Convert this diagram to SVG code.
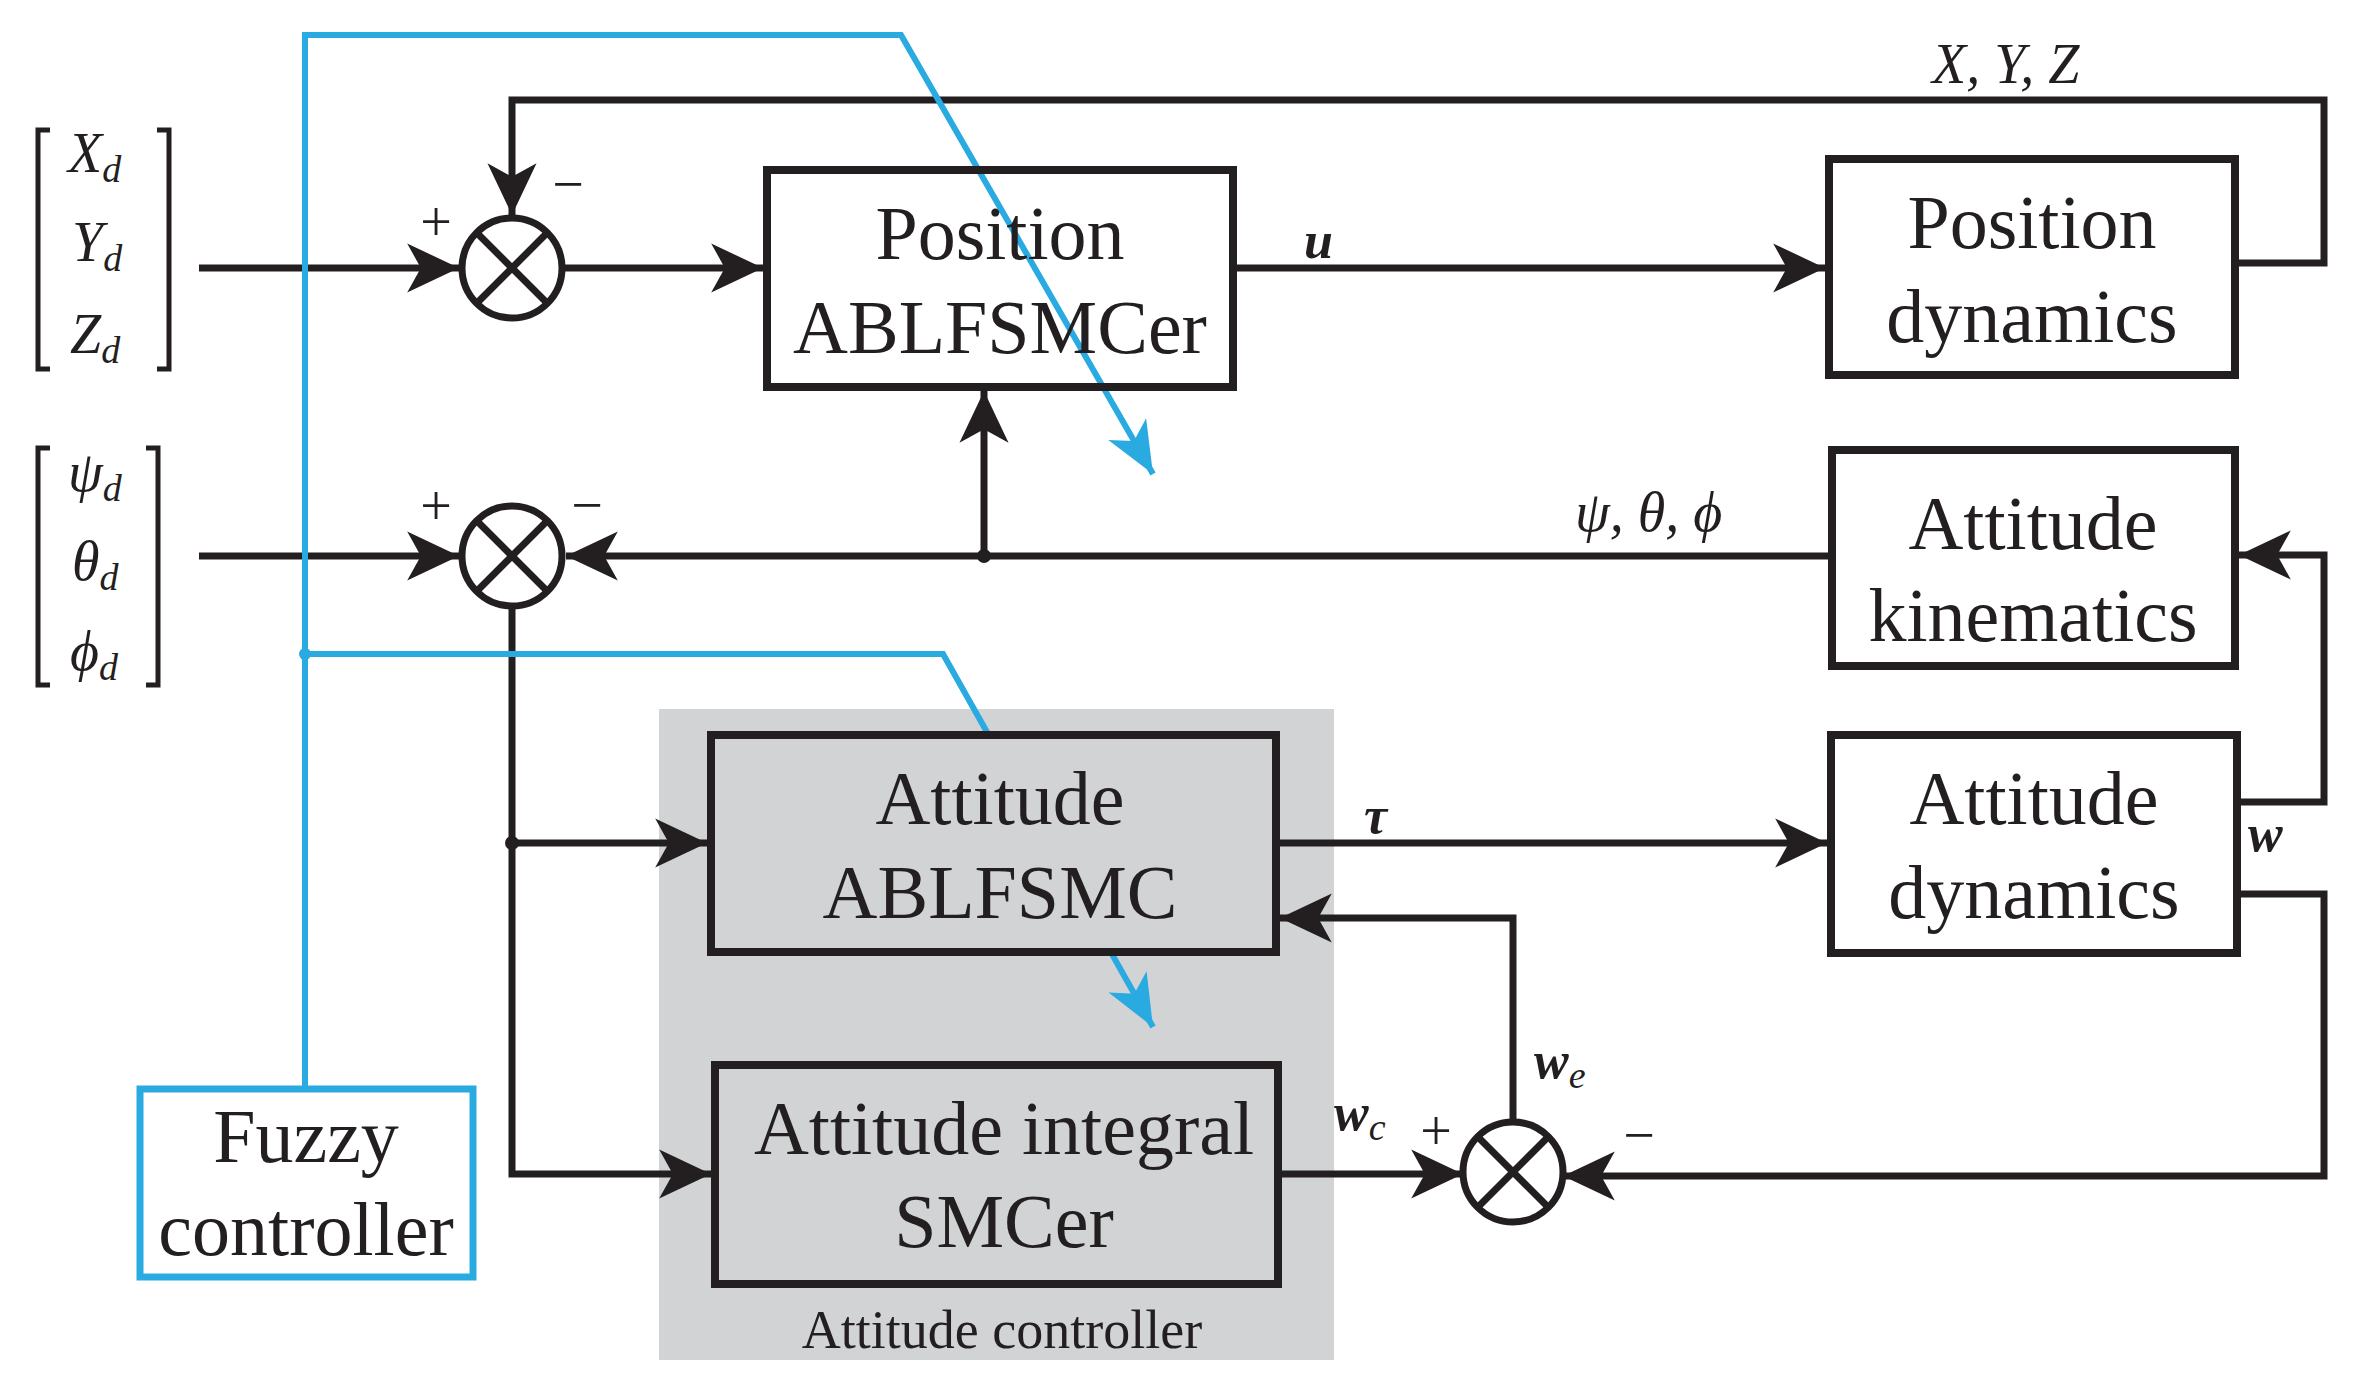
<svg xmlns="http://www.w3.org/2000/svg" width="2360" height="1390" viewBox="0 0 2360 1390">
<style>
.box{fill:none;stroke:#231f20;stroke-width:8}
.gbox{fill:#d1d3d4;stroke:#231f20;stroke-width:8}
.ln{fill:none;stroke:#231f20;stroke-width:7}
.bl{fill:none;stroke:#29abe2;stroke-width:6}
.t{font-family:"Liberation Serif",serif;font-size:76px;fill:#231f20;text-anchor:middle}
.m{font-family:"Liberation Serif",serif;font-style:italic;font-size:56px;fill:#231f20}
.b{font-family:"Liberation Serif",serif;font-style:italic;font-weight:bold;font-size:52px;fill:#231f20}
.s{font-size:38px}
.pm{font-family:"Liberation Serif",serif;font-size:56px;fill:#231f20;text-anchor:middle}
</style>
<defs>
<marker id="a" markerUnits="userSpaceOnUse" markerWidth="60" markerHeight="60" viewBox="-40 -20 44 40" refX="0" refY="0" orient="auto"><path d="M0,0 L-38,-18 L-28,0 L-38,18 Z" fill="#231f20"/></marker>
<marker id="ab" markerUnits="userSpaceOnUse" markerWidth="60" markerHeight="60" viewBox="-40 -20 44 40" refX="0" refY="0" orient="auto"><path d="M0,0 L-38,-16 L-28,0 L-38,16 Z" fill="#29abe2"/></marker>
</defs>
<rect x="659" y="709" width="675" height="651" fill="#d1d3d4"/>
<text x="1002" y="1348" font-family="Liberation Serif,serif" font-size="54" fill="#231f20" text-anchor="middle">Attitude controller</text>

<g id="connectors">
<path class="ln" d="M199,268 H459" marker-end="url(#a)"/>
<path class="ln" d="M2237,263 H2324 V100 H512 V215" marker-end="url(#a)"/>
<path class="ln" d="M562,268 H763" marker-end="url(#a)"/>
<path class="ln" d="M1233,268 H1825" marker-end="url(#a)"/>
<path class="ln" d="M199,556 H459" marker-end="url(#a)"/>
<path class="ln" d="M1832,556 H566" marker-end="url(#a)"/>
<path class="ln" d="M984,556 V391" marker-end="url(#a)"/>
<circle cx="984" cy="556" r="7" fill="#231f20"/>
<path class="ln" d="M512,606 V1174 H711" marker-end="url(#a)"/>
<path class="ln" d="M512,843 H707" marker-end="url(#a)"/>
<circle cx="512" cy="843" r="7" fill="#231f20"/>
<path class="ln" d="M1276,843 H1827" marker-end="url(#a)"/>
<path class="ln" d="M2237,802 H2324 V555 H2239" marker-end="url(#a)"/>
<path class="ln" d="M2237,894 H2324 V1176 H1563" marker-end="url(#a)"/>
<path class="ln" d="M1278,1174 H1463" marker-end="url(#a)"/>
<path class="ln" d="M1513,1122 V918 H1280" marker-end="url(#a)"/>
<path class="bl" d="M305,1089 V35 H901 L1153,474" marker-end="url(#ab)"/>
<path class="bl" d="M305,654 H943 L1153,1027" marker-end="url(#ab)"/>
<circle cx="305" cy="654" r="6" fill="#29abe2"/>
</g>

<g id="sum1"><circle cx="512" cy="268" r="50" fill="#fff" class="ln"/><path class="ln" d="M477,233 L547,303 M547,233 L477,303"/>
<text class="pm" x="436" y="241">+</text><text class="pm" x="568" y="203">−</text></g>
<g id="sum2"><circle cx="512" cy="556" r="50" fill="#fff" class="ln"/><path class="ln" d="M477,521 L547,591 M547,521 L477,591"/>
<text class="pm" x="436" y="525">+</text><text class="pm" x="587" y="524">−</text></g>
<g id="sum3"><circle cx="1513" cy="1172" r="50" fill="#fff" class="ln"/><path class="ln" d="M1478,1137 L1548,1207 M1548,1137 L1478,1207"/>
<text class="pm" x="1436" y="1150">+</text><text class="pm" x="1639" y="1154">−</text></g>

<g id="ref1">
<path class="ln" d="M50,130 H38 V369 H50 M157,130 H169 V369 H157" style="stroke-width:5"/>
<text class="m" x="68" y="172">X<tspan class="s" dy="10">d</tspan></text>
<text class="m" x="72" y="261">Y<tspan class="s" dy="10">d</tspan></text>
<text class="m" x="70" y="353">Z<tspan class="s" dy="10">d</tspan></text>
</g>
<g id="ref2">
<path class="ln" d="M50,448 H38 V685 H50 M146,448 H158 V685 H146" style="stroke-width:5"/>
<text class="m" x="68" y="491">ψ<tspan class="s" dy="10">d</tspan></text>
<text class="m" x="72" y="580">θ<tspan class="s" dy="10">d</tspan></text>
<text class="m" x="70" y="670">ϕ<tspan class="s" dy="10">d</tspan></text>
</g>

<g id="posctrl"><rect class="box" x="767" y="170" width="466" height="217" fill="#fff"/>
<text class="t" x="1000" y="259">Position</text><text class="t" x="1000" y="353">ABLFSMCer</text></g>
<g id="posdyn"><rect class="box" x="1829" y="159" width="406" height="216"/>
<text class="t" x="2032" y="248">Position</text><text class="t" x="2032" y="342">dynamics</text></g>
<g id="attkin"><rect class="box" x="1832" y="450" width="403" height="216"/>
<text class="t" x="2033" y="549">Attitude</text><text class="t" x="2033" y="641">kinematics</text></g>
<g id="attctrl"><rect class="gbox" x="711" y="735" width="565" height="217"/>
<text class="t" x="1000" y="824">Attitude</text><text class="t" x="1000" y="918">ABLFSMC</text></g>
<g id="attint"><rect class="gbox" x="715" y="1065" width="563" height="219"/>
<text class="t" x="1004" y="1154">Attitude integral</text><text class="t" x="1004" y="1247">SMCer</text></g>
<g id="attdyn"><rect class="box" x="1831" y="735" width="406" height="218"/>
<text class="t" x="2034" y="824">Attitude</text><text class="t" x="2034" y="918">dynamics</text></g>
<g id="fuzzy"><rect x="140" y="1089" width="333" height="188" fill="#fff" stroke="#29abe2" stroke-width="7"/>
<text class="t" x="306" y="1162">Fuzzy</text><text class="t" x="306" y="1255">controller</text></g>

<g id="labels">
<text class="m" x="1932" y="83">X, Y, Z</text>
<text class="b" x="1304" y="258">u</text>
<text class="m" x="1575" y="531">ψ, θ, ϕ</text>
<text class="b" x="1364" y="833">τ</text>
<text class="b" x="2248" y="851">w</text>
<text class="b" x="1534" y="1078">w<tspan class="s" dy="10" font-weight="normal">e</tspan></text>
<text class="b" x="1334" y="1130">w<tspan class="s" dy="10" font-weight="normal">c</tspan></text>
</g>
</svg>
